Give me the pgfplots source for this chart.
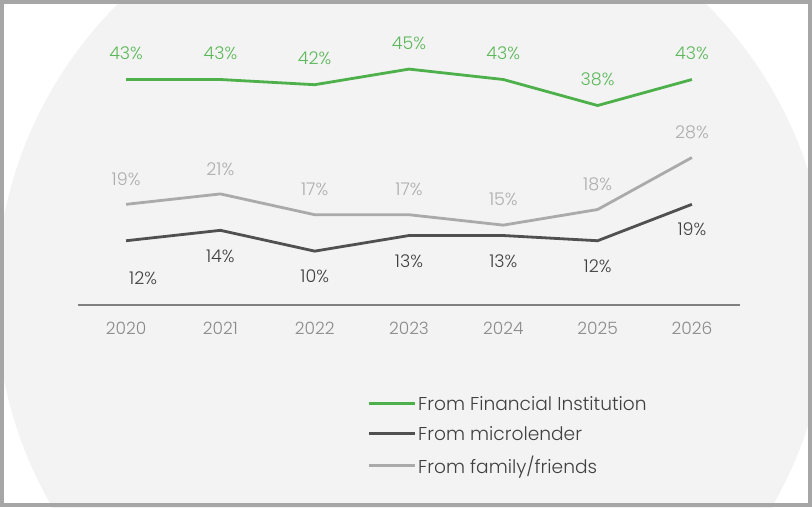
\documentclass[border=0pt]{standalone}
\usepackage{fontspec}
\setmainfont{Poppins}[UprightFont=* Light]
\usepackage{pgfplots}
\pgfplotsset{compat=1.18}
\usepackage{pgfplotstable}
\definecolor{fgreen}{HTML}{4DB04A}
\definecolor{lgreen}{HTML}{5CB85A}
\definecolor{dline}{HTML}{505050}
\definecolor{dlab}{HTML}{404040}
\definecolor{gline}{HTML}{AAAAAA}
\definecolor{glab}{HTML}{ADADAD}
\definecolor{axgray}{HTML}{808080}
\definecolor{tickgray}{HTML}{8A8A8A}
\definecolor{bgc}{HTML}{F3F3F3}
\definecolor{frame}{HTML}{A6A6A6}

\pgfplotstableread{
x y dx dy
0 43 0 26
1 43 0 26
2 42 0 26
3 45 0 26
4 43 0 26
5 38 0 26
6 43 0 26
}\fin
\pgfplotstableread{
x y dx dy
0 12 17 -37
1 14 0 -26
2 10 0 -25
3 13 0 -26
4 13 0 -26
5 12 0 -25
6 19 0 -25
}\micro
\pgfplotstableread{
x y dx dy
0 19 0 25
1 21 0 25
2 17 0 25
3 17 0 25
4 15 0 26
5 18 0 25
6 28 0 25
}\fam

\begin{document}
\begin{tikzpicture}[x=1pt,y=1pt]
\useasboundingbox (0,0) rectangle (812,507);
\begin{scope}
\clip (0,0) rectangle (812,507);
\fill[white] (0,0) rectangle (812,507);
\fill[bgc] (412,209) circle[radius=416];
\end{scope}
\draw[frame, line width=4pt] (2,2) rectangle (810,505);
\begin{axis}[
  at={(78pt,202.3pt)}, anchor=south west,
  scale only axis, width=662pt, height=235.6pt,
  xmin=-0.51, xmax=6.51, ymin=-0.3, ymax=45,
  clip=false,
  axis x line*=bottom, axis y line=none,
  x axis line style={draw=axgray, line width=2pt},
  xtick={0,...,6}, xticklabels={2020,2021,2022,2023,2024,2025,2026},
  major tick length=0pt,
  /pgf/number format/assume math mode=true,
  xticklabel style={font=\fontsize{17}{20}\selectfont, text=tickgray, yshift=-14pt},
  legend cell align=left,
  legend style={at={(axis description cs:0.4366,-0.379)}, anchor=north west,
    draw=none, fill=none, inner sep=0pt, row sep=10.5pt,
    font=\fontsize{18.6}{21}\selectfont, text=dlab},
  legend image code/.code={\draw[#1, line width=3pt] (0pt,0pt) -- (46pt,0pt);},
  visualization depends on={\thisrow{dx}\as\dx},
  visualization depends on={\thisrow{dy}\as\dy},
  nodes near coords={\pgfmathprintnumber{\pgfplotspointmeta}\%},
  every node near coord/.append style={anchor=center, xshift=\dx pt, yshift=\dy pt, font=\fontsize{17.5}{20}\selectfont},
]
\addplot[fgreen, line width=2.8pt, mark=none, every node near coord/.append style={text=lgreen}] table[x=x,y=y,meta=y]{\fin};
\addlegendentry{From Financial Institution}
\addplot[dline, line width=2.8pt, mark=none, every node near coord/.append style={text=dlab}] table[x=x,y=y,meta=y]{\micro};
\addlegendentry{From microlender}
\addplot[gline, line width=2.8pt, mark=none, every node near coord/.append style={text=glab}] table[x=x,y=y,meta=y]{\fam};
\addlegendentry{From family/friends}
\end{axis}
\end{tikzpicture}
\end{document}
